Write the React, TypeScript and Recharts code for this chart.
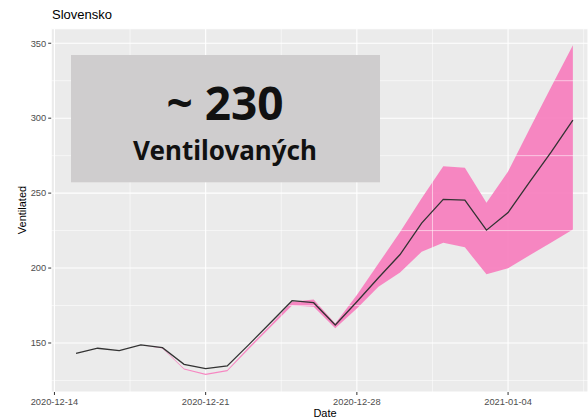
import React from 'react';
import { ComposedChart, Area, Line, XAxis, YAxis, CartesianGrid, ReferenceLine } from 'recharts';

const dates = [
  '2020-12-15', '2020-12-16', '2020-12-17', '2020-12-18', '2020-12-19', '2020-12-20',
  '2020-12-21', '2020-12-22', '2020-12-23', '2020-12-24', '2020-12-25', '2020-12-26',
  '2020-12-27', '2020-12-28', '2020-12-29', '2020-12-30', '2020-12-31', '2021-01-01',
  '2021-01-02', '2021-01-03', '2021-01-04', '2021-01-05', '2021-01-06', '2021-01-07',
];
const ventilated = [
  143.1, 146.5, 144.9, 148.7, 146.9, 135.8, 132.9, 134.7, 148.9, 163.5, 178.2, 176.9,
  162.0, 177.5, 193.5, 209.0, 230.0, 245.8, 245.3, 225.3, 237.0, 257.5, 277.5, 298.7,
];
const lower = [
  143.1, 146.5, 144.9, 148.7, 146.4, 132.3, 128.7, 131.2, 146.0, 160.5, 175.0, 174.2,
  159.8, 173.0, 187.5, 197.0, 210.9, 216.9, 213.8, 195.8, 199.8, 208.5, 217.0, 225.8,
];
const upper = [
  143.1, 146.5, 144.9, 148.7, 146.9, 133.0, 129.4, 131.9, 147.3, 162.0, 177.5, 179.0,
  163.0, 182.0, 203.0, 224.0, 246.5, 268.0, 267.0, 243.5, 264.5, 293.0, 321.0, 348.7,
];
const xTickLabels = ['2020-12-14', '2020-12-21', '2020-12-28', '2021-01-04'];
const yTicks = [150, 200, 250, 300, 350];
const yMinor = [125, 175, 225, 275, 325];

const origin = Date.parse('2020-12-14');
const toDay = (s: string) => Math.round((Date.parse(s) - origin) / 86400000);

const data = dates.map((d, i) => ({
  day: toDay(d),
  ventilated: ventilated[i],
  band: [lower[i], upper[i]],
}));
const xTicks = xTickLabels.map(toDay);
const xMinor = xTicks.map((t) => t + 3.5);
const labelOf: Record<number, string> = {};
xTickLabels.forEach((l) => (labelOf[toDay(l)] = l));

const tickStyle = { fontSize: 9.3, fill: '#4D4D4D', fontFamily: 'Liberation Sans, Arial, sans-serif' };

export default function App() {
  return (
    <div style={{ position: 'absolute', left: 0, top: 0, width: 588, height: 418, overflow: 'hidden', background: '#fff' }}>
      <ComposedChart
        width={588}
        height={418}
        data={data}
        margin={{ top: 28.7, right: 0, bottom: 0, left: 0 }}
      >
        <CartesianGrid fill="#EBEBEB" stroke="#FFFFFF" strokeWidth={1.1} />
        {xMinor.map((x) => (
          <ReferenceLine key={'vx' + x} x={x} stroke="#FFFFFF" strokeWidth={0.55} />
        ))}
        {yMinor.map((y) => (
          <ReferenceLine key={'hy' + y} y={y} stroke="#FFFFFF" strokeWidth={0.55} />
        ))}
        <XAxis
          type="number"
          dataKey="day"
          domain={[-0.15, 24.7]}
          ticks={xTicks}
          tickFormatter={(v: number) => labelOf[v] ?? ''}
          axisLine={false}
          tickLine={{ stroke: '#333333' }}
          tickSize={3}
          tickMargin={3.5}
          height={26}
          tick={tickStyle}
          allowDataOverflow
        />
        <YAxis
          type="number"
          domain={[117.3, 359.7]}
          ticks={yTicks}
          axisLine={false}
          tickLine={{ stroke: '#333333' }}
          tickSize={3}
          tickMargin={2}
          width={51.2}
          tick={tickStyle}
          allowDataOverflow
        />
        <Area
          type="linear"
          dataKey="band"
          fill="#F781BF"
          fillOpacity={0.95}
          stroke="none"
          isAnimationActive={false}
        />
        <Line
          type="linear"
          dataKey="ventilated"
          stroke="#333333"
          strokeWidth={1.3}
          dot={false}
          isAnimationActive={false}
        />
      </ComposedChart>
      <svg width={588} height={418} style={{ position: 'absolute', left: 0, top: 0, pointerEvents: 'none' }}>
        <text x={52} y={19} fontSize={13} fontFamily="Liberation Sans, Arial, sans-serif" fill="#000">Slovensko</text>
        <text x={325} y={416.5} fontSize={11} textAnchor="middle" fontFamily="Liberation Sans, Arial, sans-serif" fill="#000">Date</text>
        <text x={26} y={210} fontSize={11} textAnchor="middle" transform="rotate(-90 26 210)" fontFamily="Liberation Sans, Arial, sans-serif" fill="#000">Ventilated</text>
        <rect x={71} y={55} width={309} height={127.3} fill="#CFCDCE" />
        <text x={225} y={120} fontSize={46} fontWeight="bold" textAnchor="middle" fontFamily="Noto Sans, sans-serif" fill="#111">~ 230</text>
        <text x={225} y={160} fontSize={26} fontWeight="bold" textAnchor="middle" fontFamily="Noto Sans, sans-serif" fill="#111">Ventilovaných</text>
      </svg>
    </div>
  );
}
